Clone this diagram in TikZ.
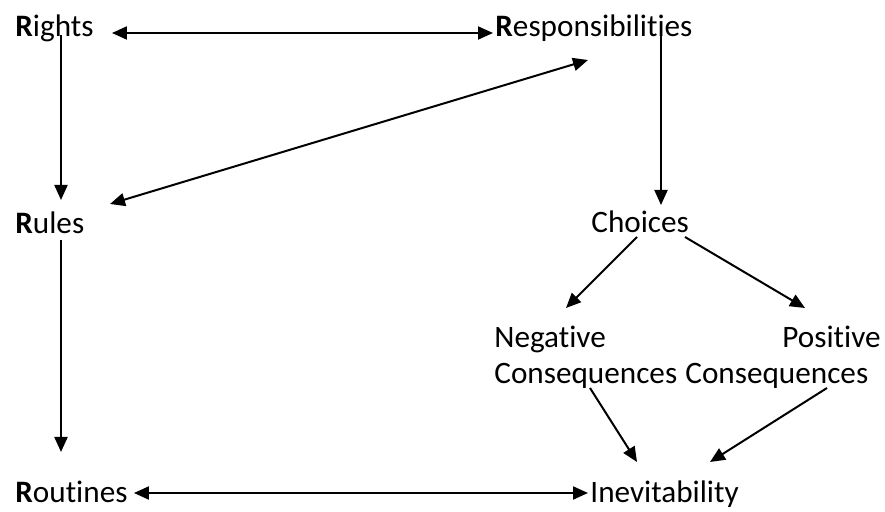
\documentclass[tikz,border=0pt]{standalone}
\usepackage{fontspec}
\setmainfont{Carlito}[Ligatures=NoCommon]
\usetikzlibrary{arrows.meta,calc}

\begin{document}
\begin{tikzpicture}[
    x=0.5pt, y=-0.5pt,
    font=\fontsize{15.6pt}{18pt}\selectfont,
    word/.style={inner sep=0pt, anchor=base west},
    stack/.style={word, align=left},
    link/.style={draw=black, line width=1pt, -{Triangle[length=7.5pt,width=6.5pt]}},
    twoway/.style={link, {Triangle[length=7.5pt,width=6.5pt]}-{Triangle[length=7.5pt,width=6.5pt]}},
  ]

  % Bounding box in pixel units of the reference.
  \path[use as bounding box] (0,0) rectangle (885,512);

  % Left column: the four R's.
  \node[word] (rights)   at (15,37)  {\textbf{R}ights};
  \node[word] (rules)    at (15,234) {\textbf{R}ules};
  \node[word] (routines) at (15,503) {\textbf{R}outines};

  % Right column (two-line nodes sit on the baseline of their last line).
  \node[word] (resp)    at (495,37)  {\textbf{R}esponsibilities};
  \node[word] (choices) at (591,233) {Choices};
  \node[stack] (neg)    at (494,384) {Negative\\Consequences};
  \node[stack] (pos)    at (685,384) {\hspace*{48.5pt}Positive\\Consequences};
  \node[word] (inev)    at (590,503) {Inevitability};

  % Two-way links.
  \draw[twoway] ($(rights.base east)+(18,-4)$) -- ($(resp.base west)+(-2,-4)$);
  \draw[twoway] ($(resp.base west)+(93,23)$) -- ($(rules.base west)+(95,-30)$);
  \draw[twoway] ($(routines.base east)+(6,-10)$) -- ($(inev.base west)+(-2,-10)$);

  % Downward links.
  \draw[link] ($(rights.base west)+(46,-2)$) -- ($(rules.base west)+(46,-34)$);
  \draw[link] ($(rules.base west)+(46,6)$) -- ($(routines.base west)+(46,-51)$);
  \draw[link] ($(resp.base west)+(166,-4)$) -- ($(choices.base west)+(70,-28)$);
  \draw[link] ($(choices.base west)+(46,4)$) -- ($(neg.base west)+(72,-76)$);
  \draw[link] ($(choices.base west)+(94,4)$) -- ($(pos.base west)+(120,-76)$);
  \draw[link] ($(neg.base west)+(96,4)$) -- ($(inev.base west)+(47,-41)$);
  \draw[link] ($(pos.base west)+(142,4)$) -- ($(inev.base west)+(120,-41)$);
\end{tikzpicture}
\end{document}
